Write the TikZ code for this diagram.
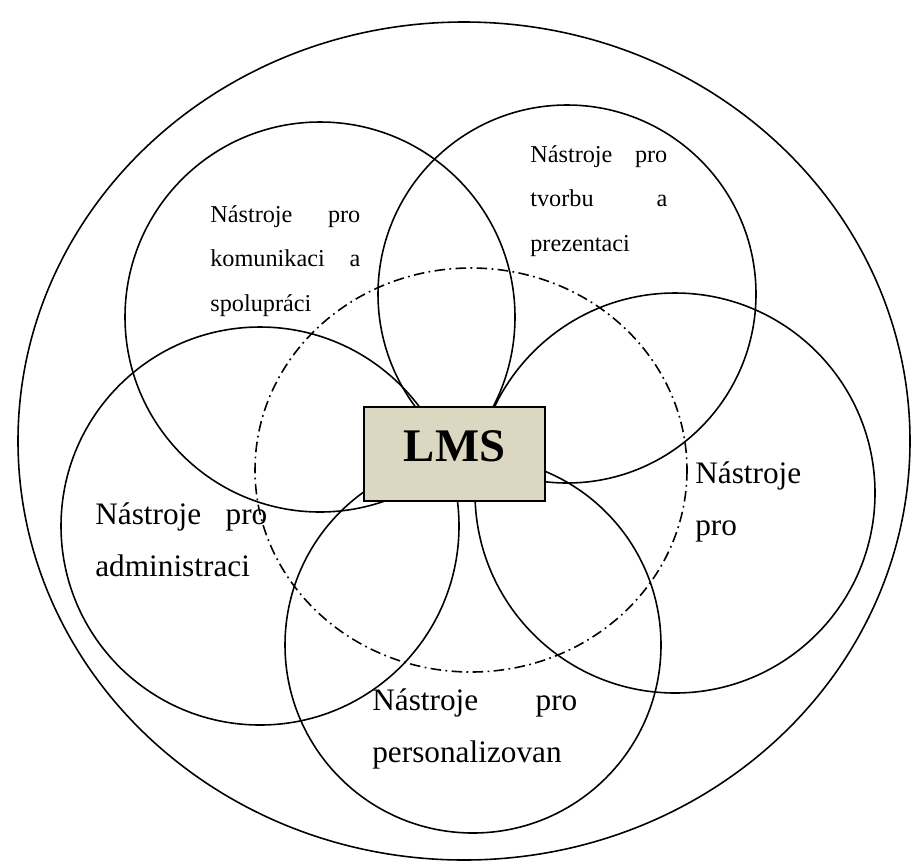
\documentclass[tikz,border=0pt]{standalone}
\usepackage{fontspec}
\setmainfont{Liberation Serif}
\definecolor{lmsfill}{HTML}{DBD7C1}
\begin{document}
\begin{tikzpicture}[x=0.02cm,y=-0.02cm,
    ring/.style={draw,line width=0.9pt},
    core/.style={draw,line width=0.9pt,dash pattern=on 6pt off 2.5pt on 1pt off 2.5pt},
    lmsbox/.style={draw,line width=1pt,fill=lmsfill,minimum width=3.62cm,minimum height=1.88cm,text depth=8.6pt,font=\fontsize{26.6}{30}\selectfont\bfseries},
    smalltext/.style={inner sep=0pt,anchor=base west,align=left,font=\fontsize{13.8}{25.4}\selectfont},
    bigtext/.style={inner sep=0pt,anchor=base west,align=left,font=\fontsize{17.8}{30}\selectfont}
  ]
    \useasboundingbox (0,0) rectangle (912,863);
    % outer boundary
    \draw[ring] (464,441) ellipse [x radius=446, y radius=419];
    % five tool groups
    \draw[ring] (320,317) circle [radius=195];
    \draw[ring] (567,294) circle [radius=189];
    \draw[ring] (675,493) circle [radius=200];
    \draw[ring] (473,645) circle [radius=188];
    \draw[ring] (260,526) circle [radius=199];
    % dash-dot core
    \draw[core] (471,470) ellipse [x radius=216, y radius=202];
    % centre
    \node[lmsbox] (lms) at (454.5,454) {LMS};
    % labels
    \node[smalltext,text width=150*0.02cm] (komunikace) at (210,222) {Nástroje\hfill pro\\komunikaci\hfill a\\spolupráci};
    \node[smalltext,text width=137*0.02cm] (tvorba) at (530,162) {Nástroje\hfill pro\\tvorbu\hfill a\\prezentaci};
    \node[bigtext,text width=110*0.02cm] (hodnoceni) at (695,483) {Nástroje\\pro};
    \node[bigtext,text width=172*0.02cm] (administrace) at (95,524) {Nástroje\hfill pro\\administraci};
    \node[bigtext,text width=205*0.02cm] (personalizace) at (372,710) {Nástroje\hfill pro\\personalizovan};
\end{tikzpicture}
\end{document}
